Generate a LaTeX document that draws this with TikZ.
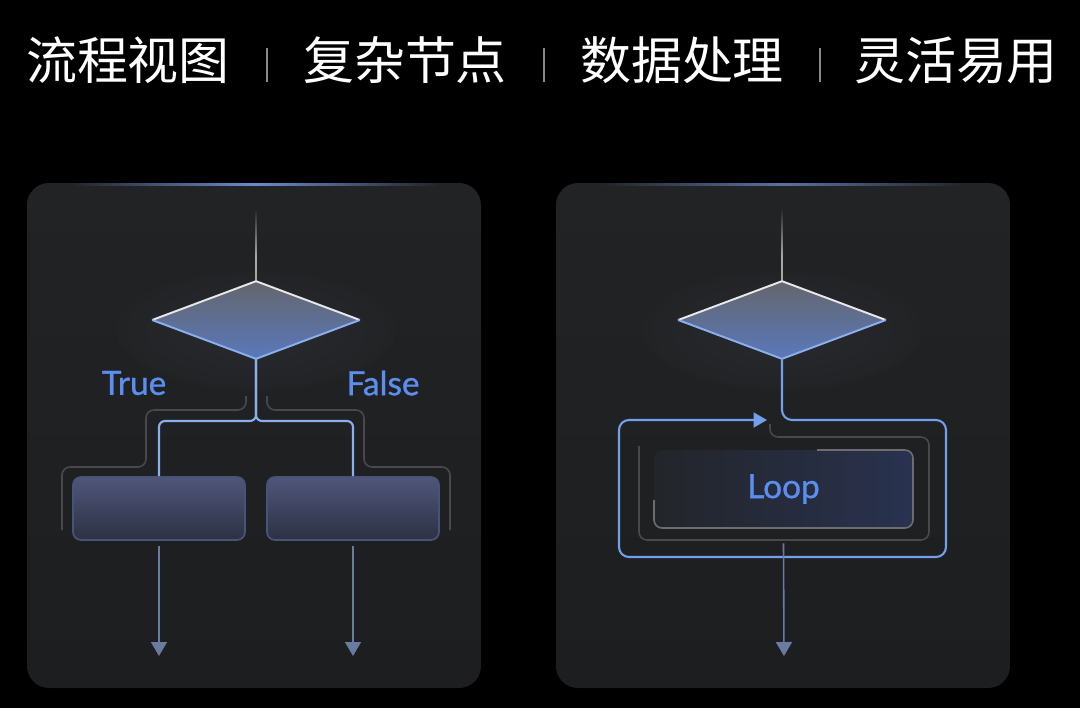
\documentclass[tikz,border=0pt]{standalone}
\usepackage{fontspec}
\newfontfamily\cjkfont{Noto Sans CJK SC}
\newfontfamily\labfont[FakeBold=0.9]{Lato}
\usetikzlibrary{shapes.geometric,arrows.meta,fadings}
\definecolor{panelc}{HTML}{1D1E20}
\definecolor{paneltop}{HTML}{222325}
\definecolor{glowblue}{HTML}{6A8BD0}
\definecolor{labblue}{HTML}{5B8EF0}
\definecolor{branchblue}{HTML}{8AB0EE}
\definecolor{loopblue}{HTML}{72A0EA}
\definecolor{outc}{HTML}{6A7BA2}
\definecolor{topl}{HTML}{A6A7AC}
\definecolor{diatop}{HTML}{64666D}
\definecolor{diabot}{HTML}{5A78BA}
\definecolor{boxtop}{HTML}{50567A}
\definecolor{boxbot}{HTML}{2C3143}
\definecolor{boxedge}{HTML}{465478}
\definecolor{decog}{HTML}{48494D}
\definecolor{seps}{HTML}{8A8A8A}
\definecolor{loopl}{HTML}{232529}
\definecolor{loopr}{HTML}{29324F}
\definecolor{glowc}{HTML}{292A2F}
\tikzfading[name=fadeup, top color=transparent!0, bottom color=transparent!100]
\begin{document}
\begin{tikzpicture}[x=0.02cm,y=-0.02cm,
  panel/.style={rounded corners=0.44cm, top color=paneltop, bottom color=panelc, draw=none},
  dia/.style={diamond, minimum width=4.14cm, minimum height=1.54cm, inner sep=0pt, top color=diatop, bottom color=diabot},
  diatopedge/.style={draw=white!82!gray, line width=1.1pt, line join=round},
  diabotedge/.style={draw=branchblue, line width=1.1pt, line join=round},
  topline/.style={draw=topl, line width=0.8pt},
  branch/.style={draw=branchblue, line width=1.2pt, rounded corners=0.12cm},
  decoline/.style={draw=decog, line width=0.9pt, rounded corners=0.16cm},
  boxnode/.style={rectangle, rounded corners=0.16cm, minimum width=3.44cm, minimum height=1.26cm, top color=boxtop, bottom color=boxbot, draw=boxedge, line width=1pt},
  outarrow/.style={draw=outc, line width=0.9pt, -{Triangle[length=0.28cm,width=0.32cm,fill=outc]}},
  lbl/.style={font=\labfont\fontsize{19}{19}\selectfont, text=labblue, inner sep=0pt},
  ttl/.style={font=\cjkfont\fontsize{29}{29}\selectfont, text=white, inner sep=0pt},
  sepline/.style={draw=seps, line width=0.6pt},
  loopnode/.style={rectangle, rounded corners=0.16cm, minimum width=5.18cm, minimum height=1.56cm, left color=loopl, right color=loopr, inner sep=0pt, font=\labfont\fontsize{19}{19}\selectfont, text=labblue},
  looppath/.style={draw=loopblue, line width=1.2pt, rounded corners=0.2cm, -{Triangle[length=0.27cm,width=0.3cm,fill=loopblue]}}
]
\useasboundingbox[fill=black] (0,0) rectangle (1080,708);

% ---------- title ----------
\node[ttl] (h1) at (128,60) {流程视图};
\node[ttl] (h2) at (405,60) {复杂节点};
\node[ttl] (h3) at (682,60) {数据处理};
\node[ttl] (h4) at (956,60) {灵活易用};
\draw[sepline] (267,48) -- (267,82);
\draw[sepline] (544,48) -- (544,82);
\draw[sepline] (820,48) -- (820,82);

% ---------- panels ----------
\path[panel] (27,183) rectangle (481,688);
\path[panel] (556,183) rectangle (1010,688);
\shade[left color=paneltop, right color=paneltop, middle color=glowblue] (70,183) rectangle (440,185.2);
\shade[left color=paneltop, right color=paneltop, middle color=glowblue!75!paneltop] (600,183) rectangle (965,185.2);

% soft glows
\shade[inner color=glowc, outer color=paneltop] (256,330) ellipse (140 and 60);
\shade[inner color=glowc, outer color=paneltop] (782,330) ellipse (140 and 60);

% ---------- panel 1: branch ----------
\coordinate (t1) at (256,210);
\node[dia] (d1) at (256,320) {};
\draw[topline] (t1) -- (d1.north);
\fill[paneltop, path fading=fadeup] (250,208) rectangle (262,255);
\draw[diatopedge] (d1.west) -- (d1.north) -- (d1.east);
\draw[diabotedge] (d1.west) -- (d1.south) -- (d1.east);

\node[lbl] (tr) at (134,383) {True};
\node[lbl] (fa) at (383,383) {False};

% decorative outer lines
\draw[decoline] (246,396) |- (146,410) |- (62,467) -- (62,530);
\draw[decoline] (267,396) |- (364,410) |- (450,467) -- (450,530);

\node[boxnode] (b1) at (159,508.5) {};
\node[boxnode] (b2) at (353,508.5) {};

\coordinate (j1) at (256,421);
\draw[branch] (d1.south) -- (j1) -| (b1.north);
\draw[branch] (d1.south) -- (j1) -| (b2.north);

\coordinate (o1) at (159,656);
\coordinate (o2) at (353,656);
\draw[outarrow] ([yshift=-0.1cm]b1.south) -- (o1);
\draw[outarrow] ([yshift=-0.1cm]b2.south) -- (o2);

% ---------- panel 2: loop ----------
\coordinate (t2) at (782,210);
\node[dia] (d2) at (782,320) {};
\draw[topline] (t2) -- (d2.north);
\fill[paneltop, path fading=fadeup] (776,208) rectangle (788,255);
\draw[diatopedge] (d2.west) -- (d2.north) -- (d2.east);
\draw[diabotedge] (d2.west) -- (d2.south) -- (d2.east);

\node[loopnode] (lp) at (783.5,489) {Loop};
% inner decorative rings
\draw[decoline] (770,424) |- (929,437) |- (639,540) -- (639,446);
\draw[decoline, draw=decog!80!white] (817,450) -| (913,528) -| (654,500);

\coordinate (c1) at (946,420);
\coordinate (c2) at (619,557);
\coordinate (ltip) at (767,420);
\draw[looppath] (d2.south) |- (c1) |- (c2) |- (ltip);

\coordinate (o3) at (784,656);
\draw[outarrow] ([yshift=-0.3cm]lp.south) -- (o3);
\end{tikzpicture}
\end{document}
